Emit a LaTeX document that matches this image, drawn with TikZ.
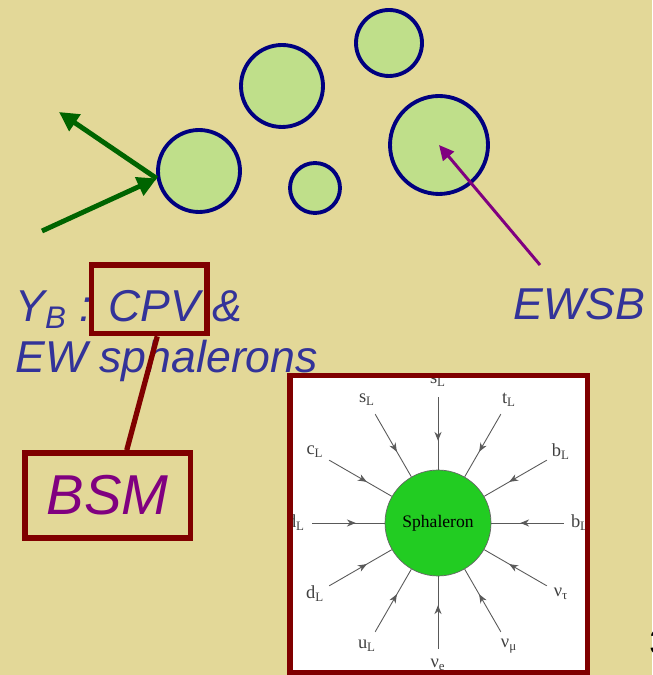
\documentclass[tikz,border=0pt]{standalone}
\usepackage{fontspec}
\setmainfont{Liberation Sans}
\newfontfamily\serifpart{Liberation Serif}
\usepackage{tikz}
\usetikzlibrary{arrows,arrows.meta,calc,decorations.markings,positioning}
\definecolor{slidebg}{RGB}{227,216,152}
\definecolor{bubblefill}{RGB}{191,223,138}
\definecolor{bubbleline}{RGB}{0,0,128}
\definecolor{textblue}{RGB}{51,51,153}
\definecolor{boxred}{RGB}{128,0,0}
\definecolor{bsmpurple}{RGB}{128,0,128}
\definecolor{arrowgreen}{RGB}{0,100,0}
\definecolor{sphgreen}{RGB}{34,204,34}
\tikzset{
  bubble/.style={circle,draw=bubbleline,fill=bubblefill,line width=2.2pt,inner sep=0pt},
  redbox/.style={draw=boxred,line width=3.3pt,inner sep=0pt},
  slidetext/.style={text=textblue,font=\fontsize{25.4}{29}\selectfont\itshape,inner sep=0pt},
  greenarrow/.style={draw=arrowgreen,line width=2.8pt,-{Triangle[length=11pt,width=11pt]}},
  purplearrow/.style={draw=bsmpurple,line width=1.7pt,-{Triangle[length=8.5pt,width=8pt]}},
  spoke/.style={draw=black!65,line width=0.5pt,decoration={markings,mark=at position 0.6 with {\arrow{Stealth[length=5pt,width=4pt,inset=1.6pt]}}},postaction={decorate}},
  quark/.style={circle,minimum size=0.64cm,inner sep=0pt,text=black!75,font=\fontsize{10.5}{12}\serifpart},
}

\begin{document}
\begin{tikzpicture}[x=0.02cm,y=0.02cm]
\useasboundingbox (0,0) rectangle (652,675);
\fill[slidebg] (0,0) rectangle (652,675);
% bubbles of the broken phase
\node[bubble,minimum size=1.64cm] (b1) at (199,504) {};
\node[bubble,minimum size=1.64cm] (b2) at (282,589) {};
\node[bubble,minimum size=1.32cm] (b3) at (389,632) {};
\node[bubble,minimum size=1.0cm] (b4) at (315,487) {};
\node[bubble,minimum size=1.96cm] (b5) at (439,530) {};
\coordinate (gIn) at (42,444);
\coordinate (gOut) at (59,563);
\coordinate (ewIn) at (540,410);
\draw[greenarrow] (gIn) -- (b1.190);
\draw[greenarrow] (b1.190) -- (gOut);
\draw[purplearrow] (ewIn) -- (b5.center);
% labels
\node[slidetext,anchor=base west] (yb) at (15,353) {Y\textsubscript{B} : CPV \&};
\node[slidetext,anchor=base west] (ews) at (15,302) {EW sphalerons};
\node[slidetext,anchor=base west] (ewsb) at (513,355) {EWSB};
\node[redbox,minimum width=2.31cm,minimum height=1.37cm] (cpv) at (149.25,375.75) {};
\node[redbox,minimum width=3.31cm,minimum height=1.7cm,text=bsmpurple,font=\fontsize{32}{36}\selectfont\itshape] (bsm) at (107.75,179.5) {BSM};
\draw[boxred,line width=3pt] ($(cpv.south)+(8,0)$) -- ($(bsm.north)+(19,0)$);
% sphaleron vertex
\fill[white] (290,299.5) rectangle (587.5,2);
\begin{scope}
\clip (293,5) rectangle (584.5,296.5);
\node[circle,fill=sphgreen,draw=black!60,line width=0.4pt,minimum size=2.12cm,inner sep=0pt,font=\fontsize{10}{12}\serifpart] (sph) at (438,152) {Sphaleron};
\node[quark] (q1) at ($(sph)+(90:142)$) {s\textsubscript{L}};
\node[quark] (q2) at ($(sph)+(60:142)$) {t\textsubscript{L}};
\node[quark] (q3) at ($(sph)+(30:142)$) {b\textsubscript{L}};
\node[quark] (q4) at ($(sph)+(0:142)$) {b\textsubscript{L}};
\node[quark] (q5) at ($(sph)+(-30:142)$) {ν\textsubscript{τ}};
\node[quark] (q6) at ($(sph)+(-60:142)$) {ν\textsubscript{μ}};
\node[quark] (q7) at ($(sph)+(-90:142)$) {ν\textsubscript{e}};
\node[quark] (q8) at ($(sph)+(-120:142)$) {u\textsubscript{L}};
\node[quark] (q9) at ($(sph)+(-150:142)$) {d\textsubscript{L}};
\node[quark] (q10) at ($(sph)+(180:142)$) {d\textsubscript{L}};
\node[quark] (q11) at ($(sph)+(150:142)$) {c\textsubscript{L}};
\node[quark] (q12) at ($(sph)+(120:142)$) {s\textsubscript{L}};
\draw[spoke] (q1) -- (sph);
\draw[spoke] (q2) -- (sph);
\draw[spoke] (q3) -- (sph);
\draw[spoke] (q4) -- (sph);
\draw[spoke] (q5) -- (sph);
\draw[spoke] (q6) -- (sph);
\draw[spoke] (q7) -- (sph);
\draw[spoke] (q8) -- (sph);
\draw[spoke] (q9) -- (sph);
\draw[spoke] (q10) -- (sph);
\draw[spoke] (q11) -- (sph);
\draw[spoke] (q12) -- (sph);
\end{scope}
\draw[boxred,line width=3.4pt] (290,299.5) rectangle (587.5,2);
\node[anchor=base west,inner sep=0pt,font=\fontsize{20}{24}\selectfont] (pg) at (649,20) {3};
\end{tikzpicture}
\end{document}
